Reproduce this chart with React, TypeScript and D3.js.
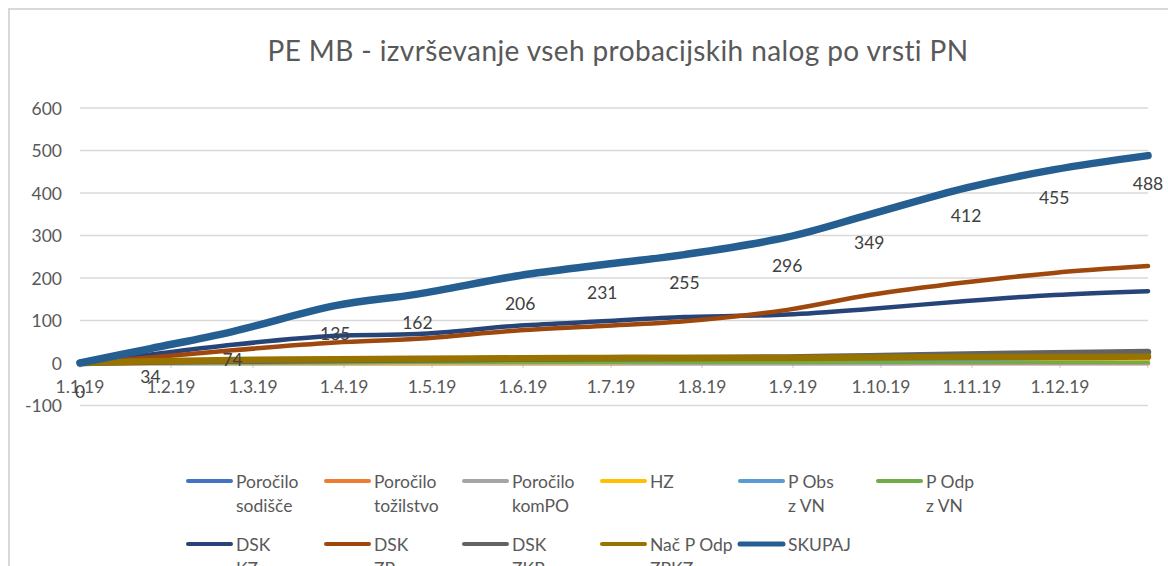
import React from "react";
import * as d3 from "d3";

const titleText = "PE MB - izvrševanje vseh probacijskih nalog po vrsti PN";

const dates = [
  "2019-01-01", "2019-01-25", "2019-02-22", "2019-03-29", "2019-04-26",
  "2019-05-31", "2019-06-28", "2019-07-26", "2019-08-30", "2019-09-27",
  "2019-10-30", "2019-11-29", "2019-12-31",
];

const porociloSodisce = [0, 0, 0, 0, 0, 0, 0, 0, 0, 0, 0, 0, 0];
const porociloTozilstvo = [0, 0, 0, 0, 0, 0, 0, 0, 0, 0, 0, 0, 0];
const porociloKomPO = [0, 0, 0, 0, 0, 0, 0, 0, 0, 0, 1, 1, 1];
const hz = [0, 0, 1, 1, 1, 2, 2, 3, 3, 4, 5, 5, 6];
const pObsZVN = [0, 0, 0, 1, 1, 1, 2, 2, 3, 4, 4, 2, 2];
const pOdpZVN = [0, 0, 0, 0, 1, 1, 1, 1, 1, 1, 1, 1, 1];
const dskKZ = [0, 20, 43, 64, 68, 88, 98, 108, 114, 127, 146, 160, 169];
const dskZP = [0, 13, 30, 48, 57, 77, 87, 98, 125, 160, 190, 212, 228];
const dskZKP = [0, 3, 5, 7, 8, 10, 11, 12, 13, 16, 20, 23, 26];
const nacPOdpZPKZ = [0, 4, 7, 9, 10, 11, 12, 12, 12, 13, 14, 14, 15];
const skupaj = [0, 34, 74, 135, 162, 206, 231, 255, 296, 349, 412, 455, 488];

const yTicks = [-100, 0, 100, 200, 300, 400, 500, 600];

const seriesList = [
  { name: "Poročilo sodišče", lines: ["Poročilo", "sodišče"], values: porociloSodisce, color: "#4472C4", width: 4.5 },
  { name: "Poročilo tožilstvo", lines: ["Poročilo", "tožilstvo"], values: porociloTozilstvo, color: "#ED7D31", width: 4.5 },
  { name: "Poročilo komPO", lines: ["Poročilo", "komPO"], values: porociloKomPO, color: "#A5A5A5", width: 4.5 },
  { name: "HZ", lines: ["HZ"], values: hz, color: "#FFC000", width: 4.5 },
  { name: "P Obs z VN", lines: ["P Obs", "z VN"], values: pObsZVN, color: "#5B9BD5", width: 3 },
  { name: "P Odp z VN", lines: ["P Odp", "z VN"], values: pOdpZVN, color: "#70AD47", width: 3 },
  { name: "DSK KZ", lines: ["DSK", "KZ"], values: dskKZ, color: "#264478", width: 4.5 },
  { name: "DSK ZP", lines: ["DSK", "ZP"], values: dskZP, color: "#9E480E", width: 4.5 },
  { name: "DSK ZKP", lines: ["DSK", "ZKP"], values: dskZKP, color: "#636363", width: 6.5 },
  { name: "Nač P Odp ZPKZ", lines: ["Nač P Odp", "ZPKZ"], values: nacPOdpZPKZ, color: "#997300", width: 6.5 },
  { name: "SKUPAJ", lines: ["SKUPAJ"], values: skupaj, color: "#255E91", width: 7.5 },
];

const FONT = "Lato, 'Open Sans', sans-serif";

export default function App() {
  const W = 1168;
  const H = 566;
  const parse = d3.utcParse("%Y-%m-%d");
  const xDates = dates.map((d) => parse(d) as Date);
  const x = d3
    .scaleUtc()
    .domain([xDates[0], xDates[xDates.length - 1]])
    .range([80, 1148]);
  const y = d3.scaleLinear().domain([-100, 600]).range([405.5, 108]);

  const monthTicks = d3.utcMonth.range(xDates[0], d3.utcDay.offset(xDates[xDates.length - 1], 1));
  const fmt = d3.utcFormat("%-d.%-m.%y");

  const line = d3
    .line<number>()
    .x((_, i) => x(xDates[i]))
    .y((v) => y(v))
    .curve(d3.curveCatmullRom.alpha(0.5));

  const legendX0 = 186;
  const legendDx = 138;
  const legendRows = [481, 544];
  const perRow = 6;

  return (
    <svg
      width={W}
      height={H}
      style={{ position: "absolute", left: 0, top: 0, background: "#fff" }}
      fontFamily={FONT}
    >
      <rect x={0} y={0} width={W} height={H} fill="#fff" />
      <rect x={9} y={9} width={W + 20} height={H + 20} fill="none" stroke="#d9d9d9" strokeWidth={2} />
      <text x={618} y={50} textAnchor="middle" dominantBaseline="central" fontSize={28} letterSpacing={0.4} fill="#595959">
        {titleText}
      </text>

      {yTicks.map((t) => (
        <g key={t}>
          <line x1={80} x2={1148} y1={y(t)} y2={y(t)} stroke="#d9d9d9" strokeWidth={1.3} />
          <text x={62} y={y(t)} textAnchor="end" dominantBaseline="central" fontSize={17.5} fill="#595959">
            {t}
          </text>
        </g>
      ))}

      {[...monthTicks, xDates[xDates.length - 1]].map((t, i) => (
        <line key={"tk" + i} x1={x(t)} x2={x(t)} y1={y(0)} y2={y(0) + 5} stroke="#d9d9d9" strokeWidth={1.3} />
      ))}
      {monthTicks.map((t, i) => (
        <text key={"tl" + i} x={x(t)} y={y(0) + 23} textAnchor="middle" dominantBaseline="central" fontSize={17.5} fill="#595959">
          {fmt(t)}
        </text>
      ))}

      {seriesList.map((s) => (
        <path
          key={s.name}
          d={line(s.values) || ""}
          fill="none"
          stroke={s.color}
          strokeWidth={s.width}
          strokeLinecap="round"
          strokeLinejoin="round"
        />
      ))}

      {skupaj.map((v, i) => (
        <text
          key={"dl" + i}
          x={x(xDates[i])}
          y={y(v) + 28}
          textAnchor="middle"
          dominantBaseline="central"
          fontSize={17.5}
          fill="#404040"
        >
          {v}
        </text>
      ))}

      {seriesList.map((s, i) => {
        const row = Math.floor(i / perRow);
        const col = i % perRow;
        const lx = legendX0 + col * legendDx;
        const ly = legendRows[row];
        return (
          <g key={"lg" + i}>
            <line
              x1={lx + 2}
              x2={lx + 45}
              y1={ly}
              y2={ly}
              stroke={s.color}
              strokeWidth={s.name === "SKUPAJ" ? 5 : 4}
              strokeLinecap="round"
            />
            {s.lines.map((ln, j) => (
              <text
                key={j}
                x={lx + 50}
                y={ly + j * 24}
                dominantBaseline="central"
                fontSize={17.5}
                fill="#595959"
              >
                {ln}
              </text>
            ))}
          </g>
        );
      })}
    </svg>
  );
}
